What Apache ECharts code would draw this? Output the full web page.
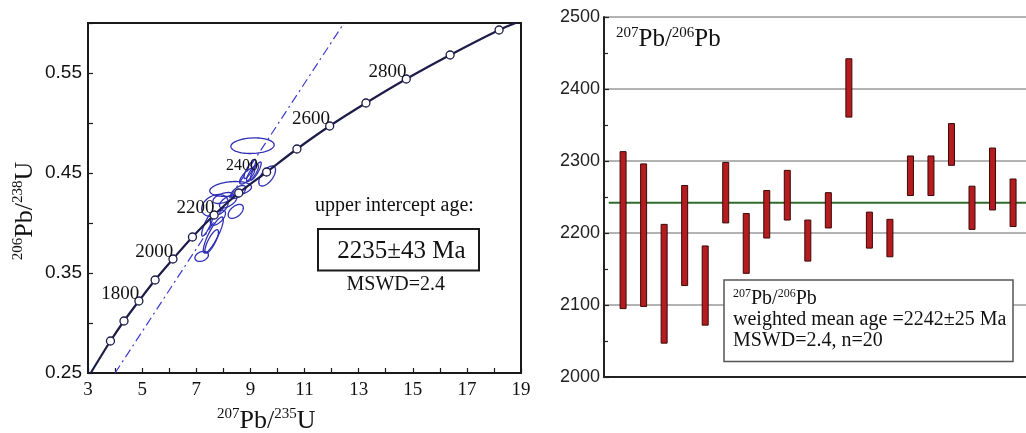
<!DOCTYPE html>
<html><head><meta charset="utf-8">
<script src="https://cdn.jsdelivr.net/npm/echarts@6/dist/echarts.min.js"></script>
<style>html,body{margin:0;padding:0;background:#fff}#c{width:1026px;height:433px}</style>
</head><body><div id="c"></div>
<script>
// ---------- Left panel: concordia diagram ----------
const xTickLabels = [3, 5, 7, 9, 11, 13, 15, 17, 19];
const yTickLabels = [0.25, 0.35, 0.45, 0.55];
const concordiaAges = [1600, 1700, 1800, 1900, 2000, 2100, 2200, 2300, 2400, 2500, 2600, 2700, 2800, 2900, 3000];
const concordiaX = [3.83, 4.33, 4.88, 5.48, 6.14, 6.86, 7.66, 8.57, 9.60, 10.72, 11.93, 13.27, 14.76, 16.38, 18.19];
const concordiaY = [0.282, 0.302, 0.322, 0.343, 0.364, 0.386, 0.408, 0.430, 0.451, 0.474, 0.497, 0.520, 0.544, 0.568, 0.593];
const curveStart = [3.10, 0.25];
const curveEnd = [18.80, 0.60];
const labelledAges = [1800, 2000, 2200, 2400, 2600, 2800];
const discordiaX = [4.00, 12.46];
const discordiaY = [0.25, 0.60];
// error ellipses: centre, half-widths, correlation
const ellCX  = [9.08, 8.98, 9.08, 8.88, 9.62, 8.27, 7.69, 8.18, 8.00, 8.55, 8.46, 7.63, 7.57, 7.20, 7.80, 7.42, 9.20];
const ellCY  = [0.4773, 0.4540, 0.4500, 0.4470, 0.4470, 0.4340, 0.4175, 0.4215, 0.4250, 0.4310, 0.4116, 0.3880, 0.3816, 0.3666, 0.4053, 0.3990, 0.4520];
const ellSX  = [0.80, 0.22, 0.22, 0.28, 0.31, 0.77, 0.49, 0.32, 0.38, 0.28, 0.28, 0.37, 0.25, 0.25, 0.28, 0.22, 0.20];
const ellSY  = [0.0078, 0.0095, 0.0085, 0.0080, 0.0100, 0.0075, 0.0110, 0.0065, 0.0055, 0.0065, 0.0070, 0.0180, 0.0117, 0.0050, 0.0075, 0.0120, 0.0090];
const ellRho = [0.10, 0.85, 0.80, 0.75, 0.60, 0.25, 0.30, 0.60, 0.50, 0.60, 0.50, 0.85, 0.80, 0.30, 0.60, 0.85, 0.85];

// ---------- Right panel: 207Pb/206Pb ages ----------
const barLow  = [2095, 2098, 2047, 2127, 2072, 2214, 2144, 2193, 2218, 2161, 2207, 2361, 2179, 2167, 2252, 2252, 2294, 2205, 2232, 2209];
const barHigh = [2313, 2296, 2212, 2266, 2182, 2298, 2227, 2259, 2287, 2218, 2256, 2442, 2229, 2219, 2307, 2307, 2352, 2265, 2318, 2275];
const meanAge = 2242;
const rightYTicks = [2000, 2100, 2200, 2300, 2400, 2500];

const SERIF = "'Liberation Serif','Times New Roman',serif";
const SANS = "'Liberation Sans',Arial,sans-serif";
const INK = '#1c1c48';

const concordiaData = [{ value: curveStart, symbol: 'none' }];
concordiaAges.forEach((age, i) => {
  const item = { value: [concordiaX[i], concordiaY[i]] };
  if (labelledAges.includes(age)) {
    const small = age === 2400;
    item.label = {
      show: true, formatter: String(age), position: small ? [-4, -2] : [5, -2],
      align: 'right', verticalAlign: 'middle',
      fontFamily: SERIF, fontSize: small ? 16 : 19, color: '#111'
    };
  }
  concordiaData.push(item);
});
concordiaData.push({ value: curveEnd, symbol: 'none' });

const ellipseData = ellCX.map((c, i) => [c, ellCY[i], ellSX[i], ellSY[i], ellRho[i]]);
const barData = barLow.map((lo, i) => [i + 1, lo, barHigh[i]]);

function supText(a, b, c, d) {
  return '{s|' + a + '}{m|' + b + '}{s|' + c + '}{m|' + d + '}';
}
function supRich(main, sup) {
  return {
    m: { fontFamily: SERIF, fontSize: main, lineHeight: main + 2, fill: '#111', color: '#111' },
    s: { fontFamily: SERIF, fontSize: sup, lineHeight: sup, verticalAlign: 'top', fill: '#111', color: '#111' }
  };
}
function txt(x, y, text, size, align) {
  return { type: 'text', x: x, y: y, z: 100,
    style: { text: text, font: size + 'px ' + SERIF, fill: '#111',
      align: align || 'left', textAlign: align || 'left', verticalAlign: 'middle', textVerticalAlign: 'middle' } };
}

const chart = echarts.init(document.getElementById('c'), null, { renderer: 'canvas' });
chart.setOption({
  animation: false,
  backgroundColor: '#fff',
  grid: [
    { left: 88, top: 23, width: 433, height: 350, show: true, borderColor: '#1a1a1a', borderWidth: 2, backgroundColor: 'transparent' },
    { left: 604, top: 17, right: 0, height: 360 }
  ],
  xAxis: [
    { gridIndex: 0, type: 'value', min: 3, max: 19, interval: 1,
      axisLine: { show: true, lineStyle: { color: '#1a1a1a', width: 2 } },
      axisTick: { show: true, inside: true, length: 5, lineStyle: { color: '#1a1a1a', width: 1.2 } },
      axisLabel: { formatter: v => xTickLabels.includes(v) ? String(v) : '', fontFamily: SERIF, fontSize: 19, color: '#111', margin: 8 },
      splitLine: { show: false } },
    { gridIndex: 1, type: 'value', min: 0.07, max: 20.63,
      axisLine: { show: true, onZero: false, lineStyle: { color: '#222', width: 2 } },
      axisTick: { show: false }, axisLabel: { show: false }, splitLine: { show: false } }
  ],
  yAxis: [
    { gridIndex: 0, type: 'value', min: 0.25, max: 0.60, interval: 0.05,
      axisLine: { show: true, lineStyle: { color: '#1a1a1a', width: 2 } },
      axisTick: { show: true, inside: true, length: 5, lineStyle: { color: '#1a1a1a', width: 1.2 } },
      axisLabel: { formatter: v => yTickLabels.some(t => Math.abs(t - v) < 1e-6) ? v.toFixed(2) : '', fontFamily: SANS, fontSize: 19, color: '#111', margin: 6 },
      splitLine: { show: false } },
    { gridIndex: 1, type: 'value', min: 2000, max: 2500, interval: 100,
      axisLine: { show: true, onZero: false, lineStyle: { color: '#222', width: 2 } },
      axisTick: { show: true, inside: true, length: 5, lineStyle: { color: '#222', width: 1.2 } },
      minorTick: { show: true, splitNumber: 2, length: 4, lineStyle: { color: '#222', width: 1.2 } },
      axisLabel: { formatter: v => rightYTicks.includes(v) ? String(v) : '', fontFamily: SANS, fontSize: 18, color: '#222', margin: 4 },
      splitLine: { show: true, lineStyle: { color: '#9a9a9a', width: 1.5 } } }
  ],
  series: [
    { type: 'line', xAxisIndex: 0, yAxisIndex: 0, data: discordiaX.map((x, i) => [x, discordiaY[i]]),
      symbol: 'none', lineStyle: { color: '#3a3ad0', width: 1.2, type: [9, 4, 2, 4] }, z: 2, silent: true },
    { type: 'custom', xAxisIndex: 0, yAxisIndex: 0, data: ellipseData, encode: { x: 0, y: 1 }, z: 3, silent: true,
      renderItem: function (params, api) {
        const cx = api.value(0), cy = api.value(1), sx = api.value(2), sy = api.value(3), r = api.value(4);
        const pts = [];
        const q = Math.sqrt(1 - r * r);
        for (let k = 0; k <= 72; k++) {
          const t = k / 72 * 2 * Math.PI;
          pts.push(api.coord([cx + sx * Math.cos(t), cy + sy * (r * Math.cos(t) + q * Math.sin(t))]));
        }
        return { type: 'polygon', shape: { points: pts }, style: { fill: 'none', stroke: '#2f2fb4', lineWidth: 1.3 } };
      } },
    { type: 'line', xAxisIndex: 0, yAxisIndex: 0, data: concordiaData, smooth: 0.3,
      symbol: 'circle', symbolSize: 8, z: 4,
      itemStyle: { color: '#fff', borderColor: INK, borderWidth: 1.3 },
      lineStyle: { color: INK, width: 2.2 } },
    { type: 'line', xAxisIndex: 1, yAxisIndex: 1, data: [[0.30, meanAge], [20.63, meanAge]],
      symbol: 'none', lineStyle: { color: '#2f6b2f', width: 2 }, z: 2, silent: true },
    { type: 'custom', xAxisIndex: 1, yAxisIndex: 1, data: barData, encode: { x: 0, y: [1, 2] }, z: 5,
      renderItem: function (params, api) {
        const top = api.coord([api.value(0), api.value(2)]);
        const bot = api.coord([api.value(0), api.value(1)]);
        return { type: 'rect', shape: { x: top[0] - 3, y: top[1], width: 6, height: bot[1] - top[1] },
          style: { fill: '#b51c1f', stroke: '#3a0808', lineWidth: 1 } };
      } }
  ],
  graphic: [
    { type: 'text', x: 217, y: 421, z: 100,
      style: { text: supText('207', 'Pb/', '235', 'U'), rich: supRich(26, 15), font: '26px ' + SERIF, fill: '#111', align: 'left', verticalAlign: 'middle' } },
    { type: 'text', x: 25, y: 211, rotation: Math.PI / 2, z: 100,
      style: { text: supText('206', 'Pb/', '238', 'U'), rich: supRich(26, 15), font: '26px ' + SERIF, fill: '#111', align: 'center', verticalAlign: 'middle' } },
    { type: 'text', x: 616, y: 39, z: 100,
      style: { text: supText('207', 'Pb/', '206', 'Pb'), rich: supRich(25, 15), font: '25px ' + SERIF, fill: '#111', align: 'left', verticalAlign: 'middle' } },
    txt(315, 206, 'upper intercept age:', 20),
    { type: 'rect', z: 99, shape: { x: 318, y: 229, width: 161, height: 41.5 }, style: { fill: '#fff', stroke: '#1a1a1a', lineWidth: 2 } },
    txt(401.5, 251.5, '2235±43 Ma', 25, 'center'),
    txt(346.5, 285, 'MSWD=2.4', 20),
    { type: 'rect', z: 99, shape: { x: 724, y: 280, width: 289, height: 81.5 }, style: { fill: '#fff', stroke: '#555', lineWidth: 1.5 } },
    { type: 'text', x: 733, y: 298.5, z: 100,
      style: { text: supText('207', 'Pb/', '206', 'Pb'), rich: supRich(20, 12), font: '20px ' + SERIF, fill: '#111', align: 'left', verticalAlign: 'middle' } },
    txt(733, 319.5, 'weighted mean age =2242±25 Ma', 20),
    txt(733, 340.5, 'MSWD=2.4, n=20', 20)
  ]
});
</script></body></html>
